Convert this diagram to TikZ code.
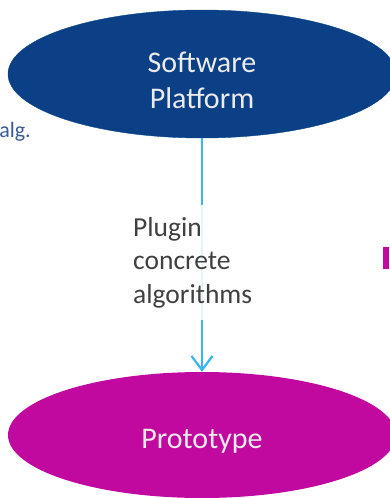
\documentclass[tikz,border=0pt]{standalone}
\usepackage{fontspec}
\setmainfont{Carlito}
\usetikzlibrary{shapes.geometric,arrows.meta}
\definecolor{platformblue}{HTML}{0B3F86}
\definecolor{protomagenta}{HTML}{C1089F}
\definecolor{linkblue}{HTML}{38B4F2}
\definecolor{labelgray}{HTML}{404040}
\definecolor{sidenote}{HTML}{3A5A9A}
\tikzset{
  blob/.style={ellipse, inner sep=0pt, minimum width=388pt, minimum height=128pt},
  blobtext/.style={text=white!92!black, align=center, inner sep=0pt,
    font=\fontsize{30}{36}\selectfont},
  link/.style={draw=linkblue, line width=2.4pt,
    -{Straight Barb[length=14pt,width=21pt,line width=2.2pt]}},
  linklabel/.style={fill=white, fill opacity=0.88, text opacity=1, text=labelgray,
    align=left, inner xsep=2pt, inner ysep=12pt, font=\fontsize{27.5}{33.5}\selectfont}
}
\begin{document}
\begin{tikzpicture}[x=1pt,y=-1pt]
  \useasboundingbox (0,0) rectangle (389,498);
  % the two stages
  \node[blob, fill=platformblue, draw=platformblue!85!teal] (platform) at (202,74) {};
  \node[blobtext] (platformtext) at (202,80) {Software\\Platform};
  \node[blob, fill=protomagenta, minimum height=126pt] (proto) at (202,435) {};
  \node[blobtext] (prototext) at (202,441) {Prototype};
  % plugin link between them
  \draw[link] (platform.south) -- (proto.north);
  \node[linklabel, anchor=north west] (plugin) at (131,205) {Plugin\\concrete\\algorithms};
  % fragments of neighbouring items
  \node[anchor=base east, inner sep=0pt, text=sidenote, font=\fontsize{22}{26}\selectfont] (alg) at (31,137) {alg.};
  \fill[protomagenta] (383,247) rectangle (389,269);
\end{tikzpicture}
\end{document}
